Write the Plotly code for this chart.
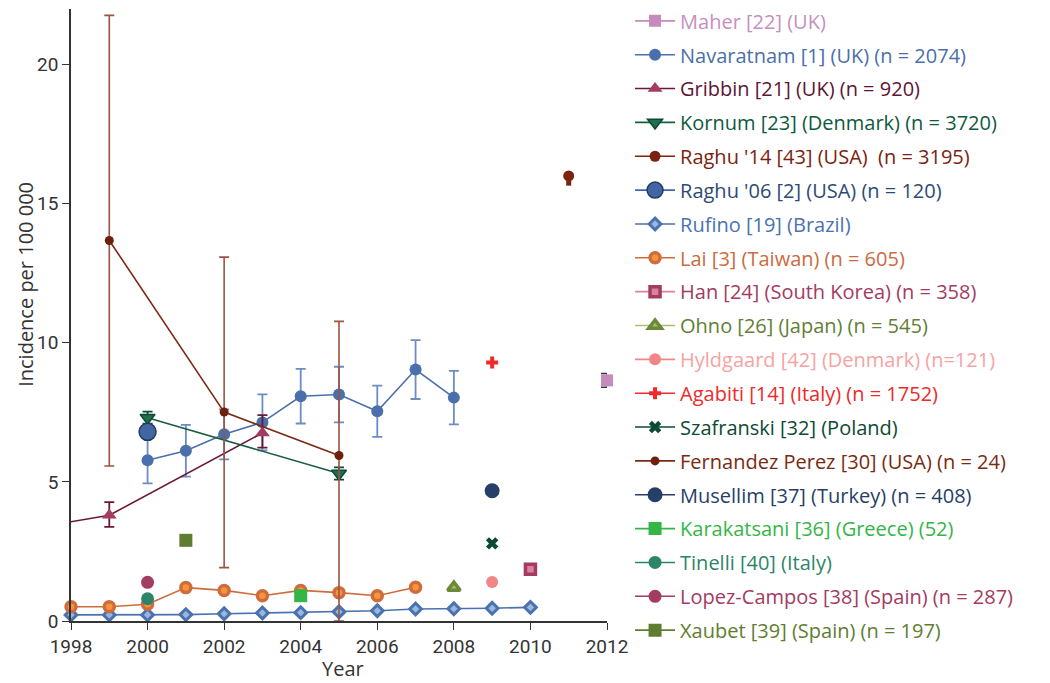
import plotly.graph_objects as go

FONT = "Roboto"
TFONT = "Open Sans"

# ---------------- data ----------------
maher_x = [2012]
maher_y = [8.65]
maher_err = [0.25]

nav_x = [2000, 2001, 2002, 2003, 2004, 2005, 2006, 2007, 2008]
nav_y = [5.78, 6.12, 6.71, 7.14, 8.08, 8.14, 7.54, 9.04, 8.03]
nav_err = [0.83, 0.93, 0.9, 1.01, 0.98, 1.0, 0.92, 1.06, 0.96]

grib_x = [1997, 1999, 2003]
grib_y = [3.34, 3.8, 6.76]
grib_err_plus = [0.0, 0.47, 0.64]
grib_err_minus = [0.0, 0.42, 0.53]

kornum_x = [2000, 2005]
kornum_y = [7.31, 5.3]
kornum_err = [0.22, 0.22]

raghu14_x = [2011]
raghu14_y = [16.0]
raghu14_err_minus = [0.35]

raghu06_x = [2000]
raghu06_y = [6.8]

rufino_x = [1998, 1999, 2000, 2001, 2002, 2003, 2004, 2005, 2006, 2007, 2008, 2009, 2010]
rufino_y = [0.22, 0.22, 0.22, 0.23, 0.26, 0.29, 0.3, 0.33, 0.37, 0.43, 0.44, 0.46, 0.49]

lai_x = [1998, 1999, 2000, 2001, 2002, 2003, 2004, 2005, 2006, 2007]
lai_y = [0.51, 0.51, 0.6, 1.2, 1.1, 0.91, 1.1, 1.02, 0.91, 1.21]

han_x = [2010]
han_y = [1.86]

ohno_x = [2008]
ohno_y = [1.2]

hyld_x = [2009]
hyld_y = [1.4]

agab_x = [2009]
agab_y = [9.29]

szaf_x = [2009]
szaf_y = [2.79]

fern_x = [1999, 2002, 2005]
fern_y = [13.68, 7.51, 5.95]
fern_upper = [21.77, 13.08, 10.77]
fern_lower = [5.57, 1.92, 0.0]

muse_x = [2009]
muse_y = [4.68]

kara_x = [2004]
kara_y = [0.91]

tine_x = [2000]
tine_y = [0.8]

lopez_x = [2000]
lopez_y = [1.39]

xaub_x = [2001]
xaub_y = [2.9]

x_ticks = [1998, 2000, 2002, 2004, 2006, 2008, 2010, 2012]
y_ticks = [0, 5, 10, 15, 20]

# ---------------- figure ----------------
fig = go.Figure()


def lab(text, color):
    return f"<span style='color:{color}'>{text}</span>"


def add(name, textcolor, x, y, symbol, size, fill, edge=None, edgew=0,
        linecolor=None, error_y=None, clip=False):
    fig.add_trace(go.Scatter(
        x=x, y=y, mode="lines+markers",
        name=lab(name, textcolor), legendgroup=name,
        line=dict(color=linecolor or fill, width=1.6),
        marker=dict(symbol=symbol, size=size, color=fill,
                    line=dict(color=edge or fill, width=edgew)),
        error_y=error_y, cliponaxis=clip,
    ))


add("Maher [22] (UK)", "#c78fc0", maher_x, maher_y, "square", 12, "#c58bbd",
    error_y=dict(type="data", array=maher_err, color="#2f3f33", thickness=1.5, width=6))
add("Navaratnam [1] (UK) (n = 2074)", "#4a6fab", nav_x, nav_y, "circle", 12, "#4a6fab",
    error_y=dict(type="data", array=nav_err, color="#6c8cc2", thickness=1.8, width=5))
add("Gribbin [21] (UK) (n = 920)", "#5e1535", grib_x, grib_y, "triangle-up", 13, "#a33b62",
    linecolor="#6b1838", clip=True,
    error_y=dict(type="data", symmetric=False, array=grib_err_plus,
                 arrayminus=grib_err_minus, color="#6b1838", thickness=1.8, width=5))
add("Kornum [23] (Denmark) (n = 3720)", "#0f5a3d", kornum_x, kornum_y, "triangle-down", 13,
    "#1f6e4c", edge="#0c4a33", edgew=1.5, linecolor="#1a5e40",
    error_y=dict(type="data", array=kornum_err, color="#0c4a33", thickness=1.8, width=5))
add("Raghu '14 [43] (USA)  (n = 3195)", "#7a2310", raghu14_x, raghu14_y, "circle", 11, "#7a2310",
    error_y=dict(type="data", symmetric=False, array=[0], arrayminus=raghu14_err_minus,
                 color="#7a2310", thickness=5, width=0))
add("Raghu '06 [2] (USA) (n = 120)", "#2e4a73", raghu06_x, raghu06_y, "circle", 17, "#4266a1",
    edge="#1f3a63", edgew=1.5)
add("Rufino [19] (Brazil)", "#4a72b0", rufino_x, rufino_y, "diamond", 9, "#9bb5dc",
    edge="#4a72b0", edgew=3, linecolor="#4a72b0")
add("Lai [3] (Taiwan) (n = 605)", "#cc6a40", lai_x, lai_y, "circle", 10, "#f7953a",
    edge="#cf6c3e", edgew=3.5, linecolor="#cf6c3e")
add("Han [24] (South Korea) (n = 358)", "#a33b62", han_x, han_y, "square", 10, "#d9839f",
    edge="#a33b62", edgew=3.5)
add("Ohno [26] (Japan) (n = 545)", "#5f8035", ohno_x, ohno_y, "triangle-up", 11, "#a9bf72",
    edge="#6a8a38", edgew=3.5)
add("Hyldgaard [42] (Denmark) (n=121)", "#f5a3a3", hyld_x, hyld_y, "circle", 12, "#f28585")
add("Agabiti [14] (Italy) (n = 1752)", "#ee2a2a", agab_x, agab_y, "cross", 10, "#ee2a2a")
add("Szafranski [32] (Poland)", "#0c4a33", szaf_x, szaf_y, "x", 11, "#0c4a33")
add("Fernandez Perez [30] (USA) (n = 24)", "#7a2a12", fern_x, fern_y, "circle", 9, "#6e200c",
    linecolor="#7a2a12",
    error_y=dict(type="data", symmetric=False,
                 array=[u - v for u, v in zip(fern_upper, fern_y)],
                 arrayminus=[v - l for v, l in zip(fern_y, fern_lower)],
                 color="#9b5443", thickness=1.6, width=5))
add("Musellim [37] (Turkey) (n = 408)", "#263f66", muse_x, muse_y, "circle", 15, "#263f66")
add("Karakatsani [36] (Greece) (52)", "#35b548", kara_x, kara_y, "square", 13, "#35b548")
add("Tinelli [40] (Italy)", "#2d8569", tine_x, tine_y, "circle", 13, "#2d8569")
add("Lopez-Campos [38] (Spain) (n = 287)", "#a33b62", lopez_x, lopez_y, "circle", 13, "#a33b62")
add("Xaubet [39] (Spain) (n = 197)", "#5f7d31", xaub_x, xaub_y, "square", 13, "#5f7d31")

fig.update_layout(
    width=1042, height=675,
    margin=dict(l=62.7, r=442.7, t=0.7, b=62.3, autoexpand=False),
    paper_bgcolor="white", plot_bgcolor="white",
    font=dict(family=FONT, size=19, color="#333333"),
    showlegend=True,
    legend=dict(x=1.043, y=1.0125, xanchor="left", yanchor="top",
                font=dict(family=TFONT, size=20), tracegroupgap=4.85,
                bgcolor="rgba(0,0,0,0)", itemwidth=40, maxheight=800),
    xaxis=dict(range=[1998, 2012], tickvals=x_ticks, ticks="outside", ticklen=7,
               tickcolor="#333333", showline=True, linecolor="#333333", linewidth=1.5,
               showgrid=False, zeroline=False,
               tickfont=dict(family=FONT, size=19, color="#333333")),
    yaxis=dict(range=[0, 22], tickvals=y_ticks, ticks="outside", ticklen=7,
               tickcolor="#333333", showline=True, linecolor="#333333", linewidth=1.5,
               showgrid=False, zeroline=False,
               tickfont=dict(family=FONT, size=19, color="#333333")),
    annotations=[
        dict(text="Incidence per 100 000", textangle=-90, xref="paper", yref="y",
             x=-0.085, y=12.1, showarrow=False, xanchor="center", yanchor="middle",
             font=dict(family=TFONT, size=20, color="#333333")),
        dict(text="Year", xref="x", yref="paper", x=2005.1, y=-0.078, showarrow=False,
             xanchor="center", yanchor="middle",
             font=dict(family=TFONT, size=20, color="#333333")),
    ],
)

fig.write_html("out.html")
